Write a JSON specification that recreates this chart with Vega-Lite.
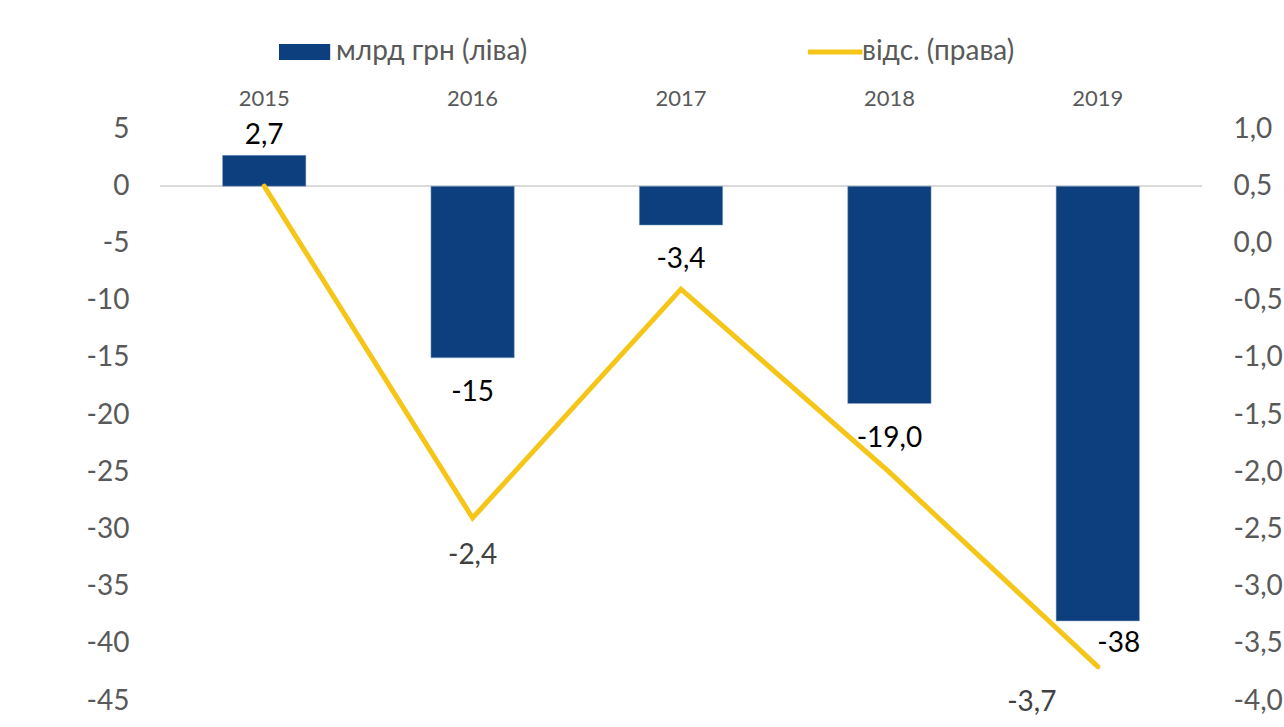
{
  "$schema": "https://vega.github.io/schema/vega-lite/v6.json",
  "width": 1042,
  "height": 572,
  "autosize": {"type": "none"},
  "padding": {"left": 160, "top": 129, "right": 82, "bottom": 26},
  "background": "white",
  "config": {
    "view": {"stroke": null},
    "font": "Lato",
    "axis": {"labelFont": "Lato"},
    "legend": {"labelFont": "Lato", "labelLimit": 0}
  },
  "data": {
    "values": [
      {"year": "2015", "bn": 2.7, "pct": 0.5, "bl": "2,7", "ll": ""},
      {"year": "2016", "bn": -15, "pct": -2.4, "bl": "-15", "ll": "-2,4"},
      {"year": "2017", "bn": -3.4, "pct": -0.4, "bl": "-3,4", "ll": ""},
      {"year": "2018", "bn": -19.0, "pct": -2.0, "bl": "-19,0", "ll": ""},
      {"year": "2019", "bn": -38, "pct": -3.7, "bl": "-38", "ll": "-3,7"}
    ]
  },
  "encoding": {
    "x": {
      "field": "year",
      "type": "nominal",
      "sort": null,
      "scale": {"paddingInner": 0.6, "paddingOuter": 0.3},
      "axis": {
        "orient": "top",
        "title": null,
        "domain": false,
        "ticks": false,
        "labelAngle": 0,
        "labelFontSize": 22,
        "labelColor": "#595959",
        "labelPadding": 19
      }
    }
  },
  "layer": [
    {
      "encoding": {
        "y": {
          "field": "bn",
          "type": "quantitative",
          "scale": {"domain": [-45, 5], "nice": false},
          "axis": {
            "title": null,
            "orient": "left",
            "values": [5, 0, -5, -10, -15, -20, -25, -30, -35, -40, -45],
            "labelExpr": "'' + datum.value",
            "domain": false,
            "ticks": false,
            "grid": false,
            "labelFontSize": 28,
            "labelColor": "#595959",
            "labelPadding": 31
          }
        }
      },
      "layer": [
        {
          "mark": {"type": "rule", "color": "#D9D9D9", "strokeWidth": 1.5},
          "encoding": {"x": null, "y": {"datum": 0, "type": "quantitative"}}
        },
        {
          "mark": {"type": "bar", "stroke": "#8FA8C8", "strokeWidth": 0.5},
          "encoding": {
            "fill": {
              "datum": "млрд грн (ліва)",
              "type": "nominal",
              "scale": {"range": ["#0D3F7E"]},
              "legend": {
                "orient": "none",
                "legendX": 113,
                "legendY": -91,
                "title": null,
                "symbolType": "M-1,-1H5.4V1H-1Z",
                "symbolSize": 256,
                "symbolStrokeWidth": 0,
                "labelFontSize": 28,
                "labelColor": "#595959",
                "labelOffset": 35,
                "labelLimit": 0,
                "padding": 0
              }
            }
          }
        },
        {
          "mark": {
            "type": "text",
            "fontSize": 28,
            "color": "#000000",
            "baseline": "middle",
            "dy": {"expr": "datum.bn > 0 ? -19 : (datum.year == '2019' ? 23 : 35)"},
            "dx": {"expr": "datum.year == '2019' ? 21 : 0"}
          },
          "encoding": {"text": {"field": "bl"}}
        }
      ]
    },
    {
      "encoding": {
        "y": {
          "field": "pct",
          "type": "quantitative",
          "scale": {"domain": [-4, 1], "nice": false},
          "axis": {
            "title": null,
            "orient": "right",
            "values": [1, 0.5, 0, -0.5, -1, -1.5, -2, -2.5, -3, -3.5, -4],
            "labelExpr": "replace(replace(format(datum.value, '.1f'), '.', ','), '\u2212', '-')",
            "domain": false,
            "ticks": false,
            "grid": false,
            "labelFontSize": 28,
            "labelColor": "#595959",
            "labelPadding": 31
          }
        }
      },
      "layer": [
        {
          "mark": {"type": "line", "strokeWidth": 5, "strokeJoin": "miter", "strokeCap": "round"},
          "encoding": {
            "stroke": {
              "datum": "відс. (права)",
              "type": "nominal",
              "scale": {"range": ["#F5C518"]},
              "legend": {
                "orient": "none",
                "legendX": 642,
                "legendY": -91,
                "title": null,
                "symbolType": "M-1,0H5.8",
                "symbolSize": 256,
                "symbolStrokeWidth": 5,
                "symbolFillColor": "transparent",
                "labelFontSize": 28,
                "labelColor": "#595959",
                "labelOffset": 32,
                "labelLimit": 0,
                "padding": 0
              }
            }
          }
        },
        {
          "transform": [{"filter": "datum.ll != ''"}],
          "mark": {
            "type": "text",
            "fontSize": 28,
            "color": "#404040",
            "baseline": "middle",
            "dy": {"expr": "datum.year == '2019' ? 36 : 38"},
            "dx": {"expr": "datum.year == '2019' ? -66 : 0"}
          },
          "encoding": {"text": {"field": "ll"}}
        }
      ]
    }
  ],
  "resolve": {"scale": {"y": "independent"}}
}
